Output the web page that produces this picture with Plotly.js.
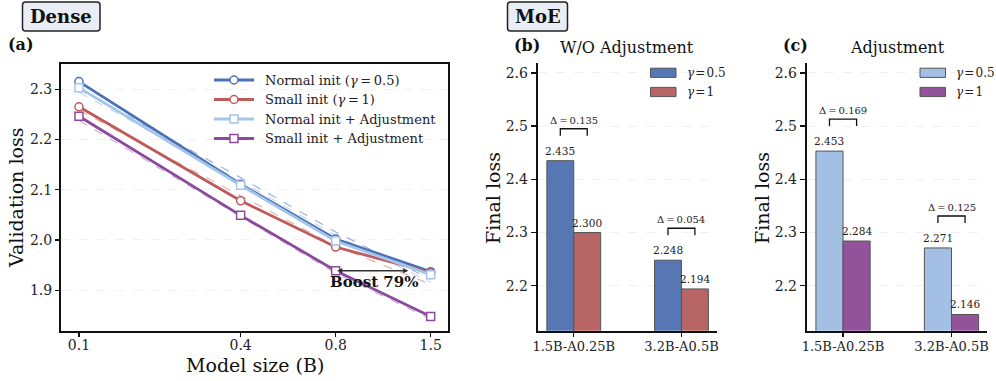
<!DOCTYPE html>
<html>
<head>
<meta charset="utf-8">
<script src="https://cdn.plot.ly/plotly-3.0.1.min.js"></script>
<style>html,body{margin:0;padding:0;background:#fff;}#chart{width:996px;height:381px;}</style>
</head>
<body>
<div id="chart"></div>
<script>
// ---------- Data ----------
// Panel (a): dense models
const modelSizes = [0.123, 0.4, 0.8, 1.6];          // positions
const modelSizeLabels = ['0.1', '0.4', '0.8', '1.5'];
const normalInit = [2.315, 2.111, 2.002, 1.937];
const smallInit = [2.265, 2.078, 1.986, 1.935];
const normalAdj = [2.303, 2.109, 1.998, 1.931];
const smallAdj = [2.246, 2.049, 1.939, 1.848];
// faint dashed fitted curves
const normalInitFit = [2.300, 2.124, 2.016, 1.922];
const smallInitFit = [2.258, 2.088, 1.988, 1.912];
const normalAdjFit = [2.294, 2.117, 2.009, 1.916];
const smallAdjFit = [2.238, 2.046, 1.934, 1.843];
const seriesNames = ['Normal init (<i>γ</i>\u2009=\u20090.5)', 'Small init (<i>γ</i>\u2009=\u20091)', 'Normal init + Adjustment', 'Small init + Adjustment'];
const boostFrom = 0.8, boostTo = 1.36, boostLoss = 1.939, boostLabel = 'Boost 79%';

// Panels (b), (c): MoE models
const moeCategories = ['1.5B-A0.25B', '3.2B-A0.5B'];
const woAdjGamma05 = [2.435, 2.248];
const woAdjGamma1 = [2.300, 2.194];
const adjGamma05 = [2.453, 2.271];
const adjGamma1 = [2.284, 2.146];
const barNames = ['<i>γ</i>\u200a=\u200a0.5', '<i>γ</i>\u200a=\u200a1'];

// ---------- Styles ----------
const FONT = 'DejaVu Serif, Liberation Serif, serif';
const W = 996, H = 381;
const px = v => v / W, py = v => 1 - v / H;
const C = {blue: '#4a71b6', red: '#c0595a', lblue: '#a5c4ea', purple: '#8b4a9c',
           barBlue: '#5677b4', barRed: '#b86565', barLBlue: '#a3c0e4', barPurple: '#92539b'};

const traces = [];
// fits
[[normalInitFit, '#9fb6dd'], [smallInitFit, '#e3b1b1'], [normalAdjFit, '#c5d8f1'], [smallAdjFit, '#cdb0d6']].forEach(([d, c]) => {
  traces.push({x: modelSizes, y: d, type: 'scatter', mode: 'lines', xaxis: 'x', yaxis: 'y',
    line: {color: c, width: 1.2, dash: 'dash'}, showlegend: false, hoverinfo: 'skip'});
});
const lineDefs = [
  [normalInit, C.blue, 'circle'], [smallInit, C.red, 'circle'],
  [normalAdj, C.lblue, 'square'], [smallAdj, C.purple, 'square']];
lineDefs.forEach(([d, c, s], i) => {
  traces.push({x: modelSizes, y: d, type: 'scatter', mode: 'lines+markers', name: seriesNames[i],
    xaxis: 'x', yaxis: 'y', line: {color: c, width: 2.8},
    marker: {symbol: s, size: 8, color: 'white', line: {color: c, width: 1.5}}, showlegend: false});
});

// bars
const barDefs = [
  ['x2', 'y2', woAdjGamma05, C.barBlue, 0], ['x2', 'y2', woAdjGamma1, C.barRed, 1],
  ['x3', 'y3', adjGamma05, C.barLBlue, 0], ['x3', 'y3', adjGamma1, C.barPurple, 1]];
barDefs.forEach(([xa, ya, d, c, k]) => {
  traces.push({x: moeCategories, y: d, type: 'bar', name: barNames[k], xaxis: xa, yaxis: ya,
    offsetgroup: String(k), marker: {color: c, line: {color: '#555', width: 1}}, showlegend: false});
});

const annotations = [];
const shapes = [];

function txt(x, y, text, size, opts) {
  annotations.push(Object.assign({x: x, y: y, xref: 'paper', yref: 'paper', text: text, showarrow: false,
    xanchor: 'center', yanchor: 'middle',
    font: {family: FONT, size: size, color: '#111'}}, opts || {}));
}
function roundBox(x0, y0, x1, y1, r) {
  const P = (a, b) => px(a) + ',' + py(b);
  const path = 'M' + P(x0 + r, y0) + ' L' + P(x1 - r, y0) + ' Q' + P(x1, y0) + ' ' + P(x1, y0 + r) +
    ' L' + P(x1, y1 - r) + ' Q' + P(x1, y1) + ' ' + P(x1 - r, y1) + ' L' + P(x0 + r, y1) +
    ' Q' + P(x0, y1) + ' ' + P(x0, y1 - r) + ' L' + P(x0, y0 + r) + ' Q' + P(x0, y0) + ' ' + P(x0 + r, y0) + ' Z';
  shapes.push({type: 'path', xref: 'paper', yref: 'paper', path: path, fillcolor: '#e9eef6', line: {color: '#222', width: 1.5}, layer: 'below'});
}

// header boxes and panel labels
roundBox(22.5, 2, 100, 31, 3);
txt(px(61.3), py(16.5), '<b>Dense</b>', 18);
roundBox(507.5, 2, 567.5, 31, 3);
txt(px(537.5), py(16.5), '<b>MoE</b>', 18);
txt(px(21.3), py(44.5), '<b>(a)</b>', 16);
txt(px(527), py(45), '<b>(b)</b>', 16);
txt(px(795.5), py(45), '<b>(c)</b>', 16);
txt(px(627), py(47), 'W/O Adjustment', 16);
txt(px(897), py(47), 'Adjustment', 16);

// axis titles
txt(px(16), py(198), 'Validation loss', 19, {textangle: -90});
txt(px(254.5), py(364.5), 'Model size (B)', 19);
txt(px(493), py(198), 'Final loss', 19, {textangle: -90});
txt(px(762), py(198), 'Final loss', 19, {textangle: -90});

// panel (a) legend
const legRows = [80, 99.5, 119, 138.5];
lineDefs.forEach(([d, c, s], i) => {
  const y = legRows[i];
  shapes.push({type: 'line', xref: 'paper', yref: 'paper', x0: px(214), x1: px(254), y0: py(y), y1: py(y), line: {color: c, width: 2.8}});
  shapes.push({type: s === 'circle' ? 'circle' : 'rect', xref: 'paper', yref: 'paper', xsizemode: 'pixel', ysizemode: 'pixel',
    xanchor: px(234), yanchor: py(y), x0: -4, x1: 4, y0: -4, y1: 4, fillcolor: 'white', line: {color: c, width: 1.5}});
  txt(px(263), py(y), seriesNames[i], 13, {xanchor: 'left', font: {family: FONT, size: 13, color: '#222'}});
});

// boost arrow
annotations.push({xref: 'x', yref: 'y', axref: 'x', ayref: 'y', x: Math.log10(boostTo), y: boostLoss,
  ax: Math.log10(boostFrom), ay: boostLoss, text: '', showarrow: true, arrowside: 'end+start',
  arrowhead: 2, startarrowhead: 2, arrowsize: 0.7, startarrowsize: 0.7, arrowwidth: 1.5, arrowcolor: '#333', standoff: 0, startstandoff: 0});
annotations.push({xref: 'x', yref: 'y', x: Math.log10(Math.sqrt(boostFrom * boostTo)) + 0.005, y: boostLoss, yshift: -11,
  xanchor: 'center', yanchor: 'middle',
  text: '<b>' + boostLabel + '</b>', showarrow: false, font: {family: FONT, size: 15, color: '#111'}});

// bar value labels, delta brackets, legends
function barPanel(xa, ya, s0, s1, c0, c1, legX) {
  moeCategories.forEach((cat, i) => {
    [[s0[i], -0.125], [s1[i], 0.125]].forEach(([v, off]) => {
      annotations.push({xref: xa, yref: ya, x: i + off, y: v, xanchor: 'center', yanchor: 'bottom', yshift: 2, text: v.toFixed(3),
        showarrow: false, font: {family: FONT, size: 10.5, color: '#222'}});
    });
    const top = Math.max(s0[i], s1[i]);
    const yT = top + 0.06, yB = top + 0.047;
    shapes.push({type: 'path', xref: xa, yref: ya,
      path: 'M' + (i - 0.125) + ',' + yB + ' L' + (i - 0.125) + ',' + yT + ' L' + (i + 0.125) + ',' + yT + ' L' + (i + 0.125) + ',' + yB,
      line: {color: '#111', width: 1.3}});
    annotations.push({xref: xa, yref: ya, x: i, y: yT, xanchor: 'center', yanchor: 'bottom', yshift: 1,
      text: 'Δ\u2009=\u2009' + (s0[i] - s1[i]).toFixed(3), showarrow: false, font: {family: FONT, size: 10, color: '#222'}});
  });
  [[72.8, c0], [92, c1]].forEach(([y, c], k) => {
    shapes.push({type: 'rect', xref: 'paper', yref: 'paper', x0: px(legX), x1: px(legX + 25.5), y0: py(y - 4.6), y1: py(y + 4.6),
      fillcolor: c, line: {color: '#555', width: 1}});
    txt(px(legX + 34), py(y), barNames[k], 12, {xanchor: 'left', font: {family: FONT, size: 12, color: '#222'}});
  });
}
barPanel('x2', 'y2', woAdjGamma05, woAdjGamma1, C.barBlue, C.barRed, 650.5);
barPanel('x3', 'y3', adjGamma05, adjGamma1, C.barLBlue, C.barPurple, 920);

const tickFont = {family: FONT, size: 14, color: '#222'};
const yBar = {range: [2.1155, 2.618], tickvals: [2.2, 2.3, 2.4, 2.5, 2.6], tickformat: '.1f', tickfont: tickFont,
  ticks: 'outside', ticklen: 5, tickwidth: 1.3, tickcolor: '#111', showline: true, linecolor: '#111', linewidth: 2,
  showgrid: true, gridcolor: '#ececec', griddash: 'dash', gridwidth: 0.8, zeroline: false, domain: [py(330.7), py(63.3)]};
const xBar = {type: 'category', range: [-0.335, 1.33], tickfont: {family: FONT, size: 13, color: '#222'},
  ticks: 'outside', ticklen: 4, tickwidth: 1.3, tickcolor: '#111', showline: true, linecolor: '#111', linewidth: 2,
  showgrid: false, zeroline: false, ticklabelstandoff: -1};

const layout = {
  width: W, height: H, margin: {l: 0, r: 0, t: 0, b: 0}, paper_bgcolor: 'white', plot_bgcolor: 'white',
  showlegend: false, barmode: 'group', bargap: 0.5, bargroupgap: 0,
  font: {family: FONT, color: '#222'},
  xaxis: {type: 'log', range: [-0.967, 0.259], domain: [px(61), px(448)], tickvals: modelSizes,
    ticktext: modelSizeLabels, tickfont: tickFont, ticks: 'outside', ticklen: 4, tickwidth: 1.2, tickcolor: '#111',
    showline: true, mirror: true, linecolor: '#111', linewidth: 2, showgrid: false, zeroline: false, anchor: 'y', ticklabelstandoff: -4},
  yaxis: {range: [1.819, 2.350], domain: [py(331), py(64)], tickvals: [1.9, 2.0, 2.1, 2.2, 2.3], tickformat: '.1f',
    tickfont: tickFont, ticks: 'outside', ticklen: 4, tickwidth: 1.2, tickcolor: '#111', showline: true, mirror: true,
    linecolor: '#111', linewidth: 2, showgrid: true, gridcolor: '#ededed', griddash: 'dash', gridwidth: 0.8, zeroline: false, anchor: 'x'},
  xaxis2: Object.assign({}, xBar, {domain: [px(537.7), px(717)], anchor: 'y2'}),
  yaxis2: Object.assign({}, yBar, {anchor: 'x2'}),
  xaxis3: Object.assign({}, xBar, {domain: [px(806.7), px(987.3)], anchor: 'y3'}),
  yaxis3: Object.assign({}, yBar, {anchor: 'x3'}),
  annotations: annotations, shapes: shapes
};

Plotly.newPlot('chart', traces, layout, {displayModeBar: false, staticPlot: true});
</script>
</body>
</html>
